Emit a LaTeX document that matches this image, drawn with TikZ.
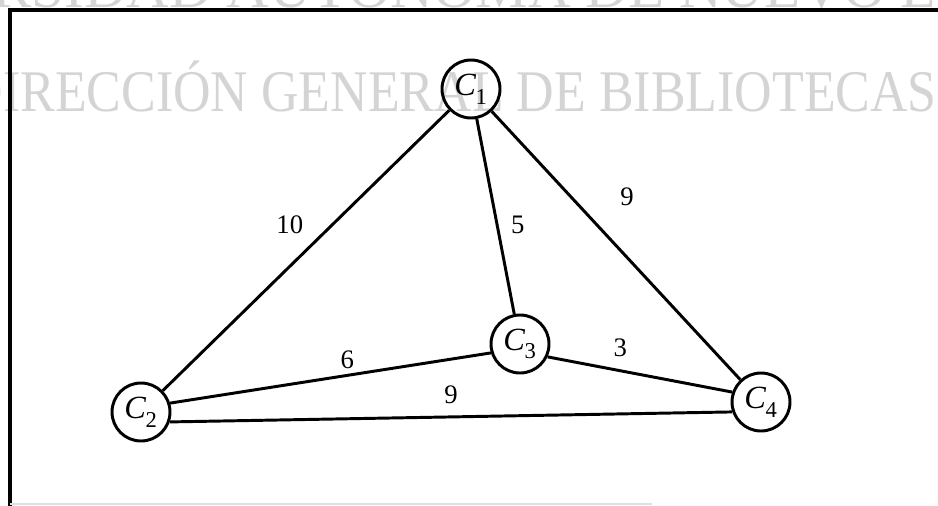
\documentclass[tikz,border=0pt]{standalone}
\usepackage{fontspec}
\setmainfont{Liberation Serif}
\newfontfamily\stampfont[FakeStretch=0.88]{Liberation Serif}
\usepackage{tikz}
\usetikzlibrary{positioning}

\begin{document}
\begin{tikzpicture}[
    city/.style={circle, draw, line width=2.1pt, minimum size=1.45cm, inner sep=0pt,
                 font=\fontsize{23}{26}\selectfont},
    road/.style={line width=2.1pt},
    cost/.style={font=\fontsize{19}{22}\selectfont, inner sep=0pt},
    stamp/.style={text=black!17, inner sep=0pt, font=\fontsize{42}{48}\selectfont}
  ]
  \useasboundingbox (0,0) rectangle (23.45,-12.65);
  \clip (0,0) rectangle (23.45,-12.65);
  % scanned stamp
  \node[stamp, anchor=base east] (u) at (23.43,-0.2) {UNIVERSIDAD AUTÓNOMA DE NUEVO L\rlap{EÓN}};
  \node[stamp, font=\stampfont\fontsize{42}{48}\selectfont, anchor=base east] (d) at (23.43,-2.8) {DIRECCIÓN GENERAL DE BIBLIOTECAS};
  % frame
  \draw[line width=2.2pt] (0.25,-13) -- (0.25,-0.25) -- (24,-0.25);
  \draw[black!12, line width=1pt] (0.25,-12.6) -- (16.3,-12.6);
  % cities
  \node[city] (c1) at (11.775,-2.225) {\textit{C}\kern-0.5pt\raisebox{-2.5pt}{\textsubscript{1}}};
  \node[city] (c2) at (3.525,-10.3)   {\textit{C}\kern-0.5pt\raisebox{-2.5pt}{\textsubscript{2}}};
  \node[city] (c3) at (13.0,-8.6)     {\textit{C}\kern-0.5pt\raisebox{-2.5pt}{\textsubscript{3}}};
  \node[city] (c4) at (19.025,-10.05) {\textit{C}\kern-0.5pt\raisebox{-2.5pt}{\textsubscript{4}}};
  % roads
  \draw[road] (c1) -- node[cost, pos=0.484, shift={(-0.52,0.52)}] (w12) {10} (c2);
  \draw[road] (c1) -- node[cost, pos=0.562, shift={(0.50,0.095)}] (w13) {5} (c3);
  \draw[road] (c1) -- node[cost, pos=0.424, shift={(0.75,0.70)}] (w14) {9} (c4);
  \draw[road] (c2.17) -- node[cost, pos=0.56, shift={(-0.06,0.375)}] (w23) {6} (c3.197);
  \draw[road] (c3.-25) -- node[cost, pos=0.37, shift={(0.11,0.56)}] (w34) {3} (c4.161);
  \draw[road] (c2.-19) -- node[cost, pos=0.5, shift={(0,0.55)}] (w24) {9} (c4.199);
\end{tikzpicture}
\end{document}
